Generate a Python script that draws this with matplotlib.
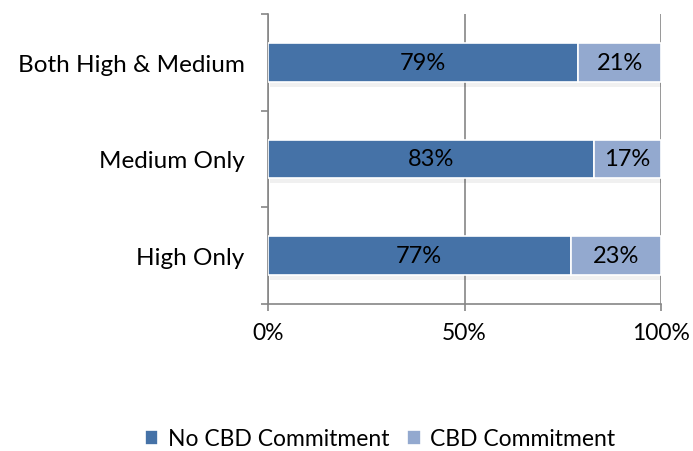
import matplotlib.pyplot as plt
import numpy as np

categories = ["High Only", "Medium Only", "Both High & Medium"]
no_cbd = [77, 83, 79]
cbd = [23, 17, 21]
series_names = ["No CBD Commitment", "CBD Commitment"]
xticks = [0, 50, 100]

plt.rcParams['font.family'] = ['Lato', 'DejaVu Sans']

fig = plt.figure(figsize=(6.93, 4.52), dpi=100)
ax = fig.add_axes([268 / 693, 1 - 305 / 452, (661 - 268) / 693, (305 - 15) / 452])

y = np.arange(len(categories))
dark = "#4572A7"
light = "#93A9CF"
grey = "#868686"

# faint shadow under bars
for i in y:
    ax.barh(i - 0.05, 100, height=0.4, left=0.5, color="#000000", alpha=0.06, zorder=1)

b1 = ax.barh(y, no_cbd, height=0.4, color=dark, edgecolor="white", linewidth=1.2, label=series_names[0], zorder=3)
b2 = ax.barh(y, cbd, left=no_cbd, height=0.4, color=light, edgecolor="white", linewidth=1.2, label=series_names[1], zorder=3)

for i in y:
    ax.text(no_cbd[i] / 2, i, f"{no_cbd[i]}%", ha="center", va="center", fontsize=17, color="black", zorder=4)
    ax.text(no_cbd[i] + cbd[i] / 2, i, f"{cbd[i]}%", ha="center", va="center", fontsize=17, color="black", zorder=4)

ax.set_xlim(0, 100)
ax.set_ylim(-0.5, 2.5)
ax.set_xticks(xticks)
ax.set_xticklabels([f"{t}%" for t in xticks], fontsize=16.5)
ax.set_yticks(y)
ax.set_yticklabels(categories, fontsize=17.5)
ax.tick_params(axis="y", length=0, pad=17)
ax.set_yticks([-0.5, 0.5, 1.5, 2.5], minor=True)
ax.tick_params(axis="y", which="minor", length=5, color=grey, width=1.2)
ax.tick_params(axis="x", length=5, color=grey, width=1.2, pad=8)

ax.grid(axis="x", color=grey, linewidth=1.2, zorder=0)
ax.set_axisbelow(True)
for s in ["top", "right"]:
    ax.spines[s].set_visible(False)
for s in ["left", "bottom"]:
    ax.spines[s].set_color(grey)
    ax.spines[s].set_linewidth(1.2)

fig.legend(handles=[b1, b2], labels=series_names, loc="center", bbox_to_anchor=(380 / 693, 1 - 440 / 452),
           ncol=2, frameon=False, fontsize=16.5, handlelength=0.6, handleheight=0.6, handletextpad=0.4, columnspacing=0.8)

fig.savefig("out.png", dpi=100)
